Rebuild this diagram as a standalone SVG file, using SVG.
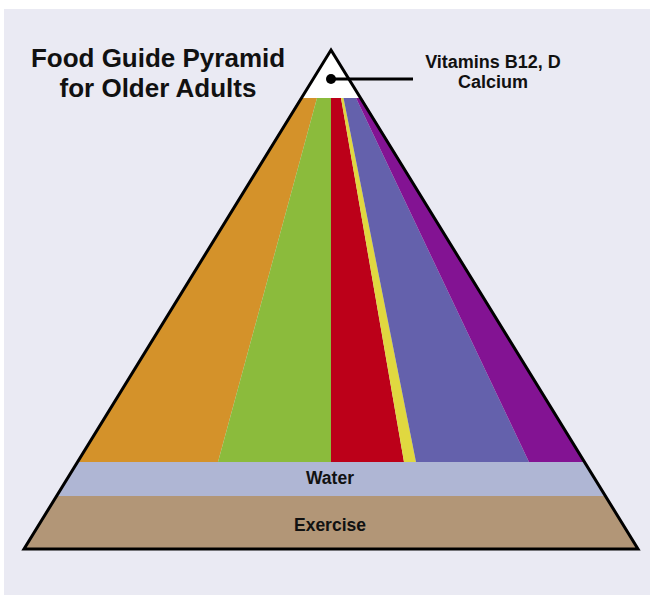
<svg xmlns="http://www.w3.org/2000/svg" width="650" height="595" viewBox="0 0 650 595">
  <style>
    .t { font-family: "Liberation Sans", Arial, sans-serif; font-weight: bold; fill: #111; text-anchor: middle; }
    .title { font-size: 26px; }
    .lbl { font-size: 17.5px; }
    .note { font-size: 18px; }
  </style>
  <rect x="4" y="9" width="646" height="586" fill="#EAEAF3"/>
  <g id="title">
    <text class="t title" x="158" y="67">Food Guide Pyramid</text>
    <text class="t title" x="158" y="97">for Older Adults</text>
  </g>
  <g id="pyramid">
    <g id="top">
      <polygon points="331,50 300.3,98 361.7,98" fill="#FFFFFF"/>
    </g>
    <g id="grains"><polygon points="300.3,98 317,98 218,462 77.5,462" fill="#D4922A"/></g>
    <g id="vegetables"><polygon points="317,98 331,98 331,462 218,462" fill="#8BBB3C"/></g>
    <g id="fruits"><polygon points="331,98 341,98 404,462 331,462" fill="#BC0019"/></g>
    <g id="fats"><polygon points="341,98 343.5,98 416,462 404,462" fill="#E0D840"/></g>
    <g id="dairy"><polygon points="343.5,98 356,98 529,462 416,462" fill="#6461AC"/></g>
    <g id="meat"><polygon points="356,98 361.7,98 584.5,462 529,462" fill="#831393"/></g>
    <g id="water">
      <polygon points="77.5,462 584.5,462 605.3,496 56.7,496" fill="#AFB6D4"/>
      <text class="t lbl" x="330" y="484">Water</text>
    </g>
    <g id="exercise">
      <polygon points="56.7,496 605.3,496 638,549 24,549" fill="#B29677"/>
      <text class="t lbl" x="330" y="531">Exercise</text>
    </g>
    <polygon points="331,50 638,549 24,549" fill="none" stroke="#000" stroke-width="3" stroke-linejoin="miter"/>
  </g>
  <g id="connectors">
    <circle cx="331" cy="79" r="5" fill="#000"/>
    <line x1="331" y1="79" x2="413" y2="79" stroke="#000" stroke-width="3"/>
  </g>
  <g id="vitamins">
    <text class="t note" x="493" y="68">Vitamins B12, D</text>
    <text class="t note" x="493" y="88">Calcium</text>
  </g>
</svg>
